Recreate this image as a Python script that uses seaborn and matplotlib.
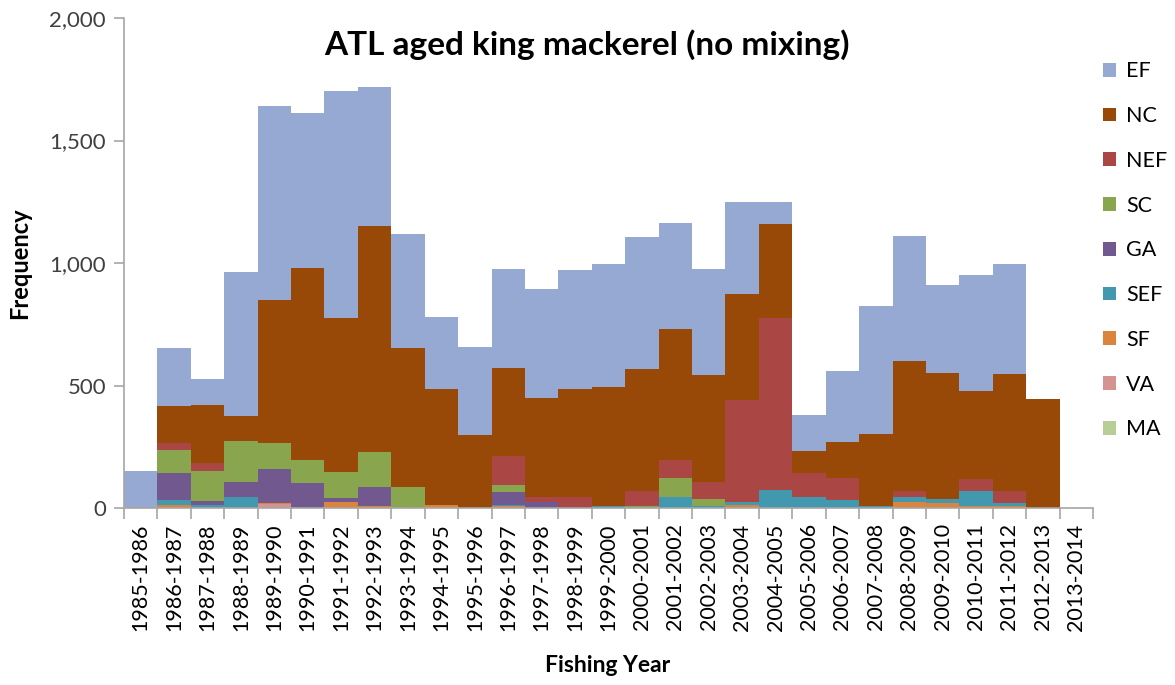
import numpy as np
import pandas as pd
import matplotlib
matplotlib.use("Agg")
import matplotlib.pyplot as plt
import seaborn as sns
from matplotlib.patches import Patch
from matplotlib.ticker import FuncFormatter, FixedLocator

years = ["1985-1986", "1986-1987", "1987-1988", "1988-1989", "1989-1990", "1990-1991",
         "1991-1992", "1992-1993", "1993-1994", "1994-1995", "1995-1996", "1996-1997",
         "1997-1998", "1998-1999", "1999-2000", "2000-2001", "2001-2002", "2002-2003",
         "2003-2004", "2004-2005", "2005-2006", "2006-2007", "2007-2008", "2008-2009",
         "2009-2010", "2010-2011", "2011-2012", "2012-2013", "2013-2014"]

# stacked from bottom to top: MA, VA, SF, SEF, GA, SC, NEF, NC, EF
MA  = [0] * 29
VA  = [0, 0, 0, 0, 15, 0, 0, 0, 0, 0, 0, 0, 0, 0, 0, 0, 0, 0, 0, 0, 0, 0, 0, 0, 0, 0, 0, 0, 0]
SF  = [0, 12, 0, 0, 5, 0, 26, 8, 0, 14, 0, 7, 0, 0, 0, 0, 0, 0, 11, 0, 0, 0, 0, 26, 22, 9, 8, 0, 0]
SEF = [0, 21, 14, 44, 0, 0, 0, 0, 0, 0, 0, 7, 0, 0, 8, 0, 44, 8, 13, 75, 44, 33, 8, 20, 16, 60, 11, 0, 0]
GA  = [0, 111, 15, 63, 139, 103, 14, 79, 0, 0, 0, 51, 24, 0, 0, 0, 0, 0, 0, 0, 0, 0, 0, 0, 0, 0, 0, 0, 0]
SC  = [0, 93, 123, 168, 105, 93, 108, 140, 87, 0, 0, 28, 0, 0, 0, 8, 80, 30, 0, 0, 0, 0, 0, 0, 0, 0, 0, 0, 0]
NEF = [0, 27, 33, 0, 0, 0, 0, 0, 0, 0, 0, 118, 20, 44, 0, 63, 72, 69, 418, 702, 99, 91, 0, 23, 0, 48, 50, 0, 0]
NC  = [0, 152, 237, 100, 585, 785, 629, 925, 565, 470, 298, 362, 404, 440, 487, 498, 533, 434, 431, 382, 90, 145, 293, 530, 514, 362, 478, 446, 0]
EF  = [153, 236, 103, 590, 792, 630, 926, 568, 465, 297, 358, 403, 445, 487, 502, 538, 435, 436, 376, 90, 147, 289, 523, 512, 358, 471, 450, 0, 0]

series_names = ["MA", "VA", "SF", "SEF", "GA", "SC", "NEF", "NC", "EF"]
series_vals = [MA, VA, SF, SEF, GA, SC, NEF, NC, EF]
colors = {
    "EF": "#95A9D3", "NC": "#984807", "NEF": "#AA4644", "SC": "#89A54E",
    "GA": "#71588F", "SEF": "#4198AF", "SF": "#DB843D", "VA": "#D69291", "MA": "#B9CD96",
}

tops = np.cumsum(np.array(series_vals, dtype=float), axis=0)

fig = plt.figure(figsize=(11.75, 6.85), dpi=100)
ax = fig.add_axes([124 / 1175, 1 - 508 / 685, (1093 - 124) / 1175, (508 - 18) / 685])

FONT = "Lato"
plt.rcParams["font.family"] = [FONT, "DejaVu Sans"]

# draw back-to-front: EF total first, MA last
for i in range(len(series_names) - 1, -1, -1):
    name = series_names[i]
    df = pd.DataFrame({"year": years, "top": tops[i]})
    sns.barplot(data=df, x="year", y="top", order=years, color=colors[name],
                width=1.0, saturation=1, ax=ax, errorbar=None,
                edgecolor="none", linewidth=0)

ax.set_xlim(-0.5, len(years) - 0.5)
ax.set_ylim(0, 2000)
ax.yaxis.set_major_locator(FixedLocator([0, 500, 1000, 1500, 2000]))
ax.yaxis.set_major_formatter(FuncFormatter(lambda v, p: f"{int(v):,}"))

for s in ["top", "right"]:
    ax.spines[s].set_visible(False)
for s in ["left", "bottom"]:
    ax.spines[s].set_color("#A6A6A6")
    ax.spines[s].set_linewidth(1.2)

ax.set_xticks(range(len(years)))
ax.set_xticklabels(years, rotation=90, fontsize=15.5, family=FONT, color="#000000")
ax.set_xticks(np.arange(-0.5, len(years), 1.0), minor=True)
ax.tick_params(axis="x", which="major", length=0, pad=11)
ax.tick_params(axis="x", which="minor", length=8, color="#A6A6A6", width=1.2, direction="out")
ax.tick_params(axis="y", which="major", length=7, color="#A6A6A6", width=1.2, labelsize=16,
               labelcolor="#404040", pad=6)
for lab in ax.get_yticklabels():
    lab.set_family(FONT)

ax.set_xlabel("")
ax.set_ylabel("")
fig.text(608 / 1175, 1 - 665 / 685, "Fishing Year", ha="center", va="center",
         fontsize=16.5, fontweight="bold", family=FONT)
fig.text(20 / 1175, 1 - 263 / 685, "Frequency", ha="center", va="center", rotation=90,
         fontsize=17, fontweight="bold", family=FONT)
fig.text(587 / 1175, 1 - 45 / 685, "ATL aged king mackerel (no mixing)", ha="center",
         va="center", fontsize=24, fontweight="bold", family=FONT)

legend_order = ["EF", "NC", "NEF", "SC", "GA", "SEF", "SF", "VA", "MA"]
handles = [Patch(facecolor=colors[n], edgecolor="none", label=n) for n in legend_order]
leg = fig.legend(handles=handles, loc="upper left", bbox_to_anchor=(1084 / 1175, 1 - 42 / 685),
                 frameon=False, prop={"family": FONT, "size": 15.5}, labelspacing=1.15,
                 handlelength=0.6, handleheight=0.6, handletextpad=0.45)

fig.savefig("out.png", dpi=100)
